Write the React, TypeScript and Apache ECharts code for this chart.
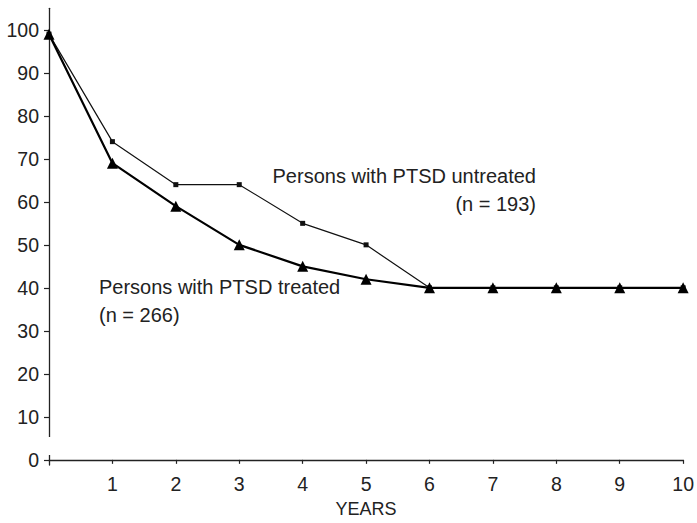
import React, { useEffect, useRef } from "react";
import * as echarts from "echarts";

const years = [0, 1, 2, 3, 4, 5, 6, 7, 8, 9, 10];
const untreated = [99, 74, 64, 64, 55, 50, 40, 40, 40, 40, 40];
const treated = [99, 69, 59, 50, 45, 42, 40, 40, 40, 40, 40];
const yTicks = [0, 10, 20, 30, 40, 50, 60, 70, 80, 90, 100];
const xTicks = [1, 2, 3, 4, 5, 6, 7, 8, 9, 10];

const FONT = "Liberation Sans, Arial, Helvetica, sans-serif";

export default function App() {
  const ref = useRef<HTMLDivElement>(null);
  useEffect(() => {
    document.body.style.margin = "0";
    const chart = echarts.init(ref.current!, null, { renderer: "svg" });
    const axisColor = "#222";
    chart.setOption({
      animation: false,
      backgroundColor: "#fff",
      grid: { left: 49, right: 12, top: 8.35, bottom: 54.8, containLabel: false },
      xAxis: {
        type: "value",
        min: 0,
        max: 10,
        name: "YEARS",
        nameLocation: "middle",
        nameGap: 35,
        nameTextStyle: { color: "#222", fontSize: 18, fontFamily: FONT },
        axisLine: { show: true, onZero: true, lineStyle: { color: axisColor, width: 1.3 } },
        axisTick: { show: true, length: 4, customValues: xTicks, lineStyle: { color: axisColor, width: 1.2 } },
        axisLabel: { customValues: xTicks, margin: 9, color: "#222", fontSize: 19.5, fontFamily: FONT },
        splitLine: { show: false },
      },
      yAxis: {
        type: "value",
        min: -1.2,
        max: 105,
        axisLine: { show: true, lineStyle: { color: axisColor, width: 1.3 } },
        axisTick: { show: true, length: 5, customValues: yTicks, lineStyle: { color: axisColor, width: 1.2 } },
        axisLabel: { customValues: yTicks, margin: 10, color: "#222", fontSize: 19.5, fontFamily: FONT },
        splitLine: { show: false },
      },
      series: [
        {
          name: "untreated",
          type: "line",
          data: years.map((x, i) => [x, untreated[i]]),
          symbol: "rect",
          symbolSize: 5,
          itemStyle: { color: "#111" },
          lineStyle: { color: "#111", width: 1.2 },
          z: 2,
        },
        {
          name: "treated",
          type: "line",
          data: years.map((x, i) => [x, treated[i]]),
          symbol: "triangle",
          symbolSize: 11,
          itemStyle: { color: "#000" },
          lineStyle: { color: "#000", width: 2.2 },
          z: 3,
        },
      ],
      graphic: [
        { type: "rect", shape: { x: 45, y: 437, width: 8, height: 18 }, style: { fill: "#fff" }, z: 100 },
        {
          type: "text",
          x: 536,
          y: 176,
          style: { text: "Persons with PTSD untreated", fill: "#222", font: `20px ${FONT}`, textAlign: "right", textVerticalAlign: "middle" },
        },
        {
          type: "text",
          x: 536,
          y: 204,
          style: { text: "(n = 193)", fill: "#222", font: `20px ${FONT}`, textAlign: "right", textVerticalAlign: "middle" },
        },
        {
          type: "text",
          x: 99,
          y: 287,
          style: { text: "Persons with PTSD treated", fill: "#222", font: `20px ${FONT}`, textAlign: "left", textVerticalAlign: "middle" },
        },
        {
          type: "text",
          x: 99,
          y: 315,
          style: { text: "(n = 266)", fill: "#222", font: `20px ${FONT}`, textAlign: "left", textVerticalAlign: "middle" },
        },
      ],
    });
    return () => chart.dispose();
  }, []);
  return <div ref={ref} style={{ width: 697, height: 523 }} />;
}
